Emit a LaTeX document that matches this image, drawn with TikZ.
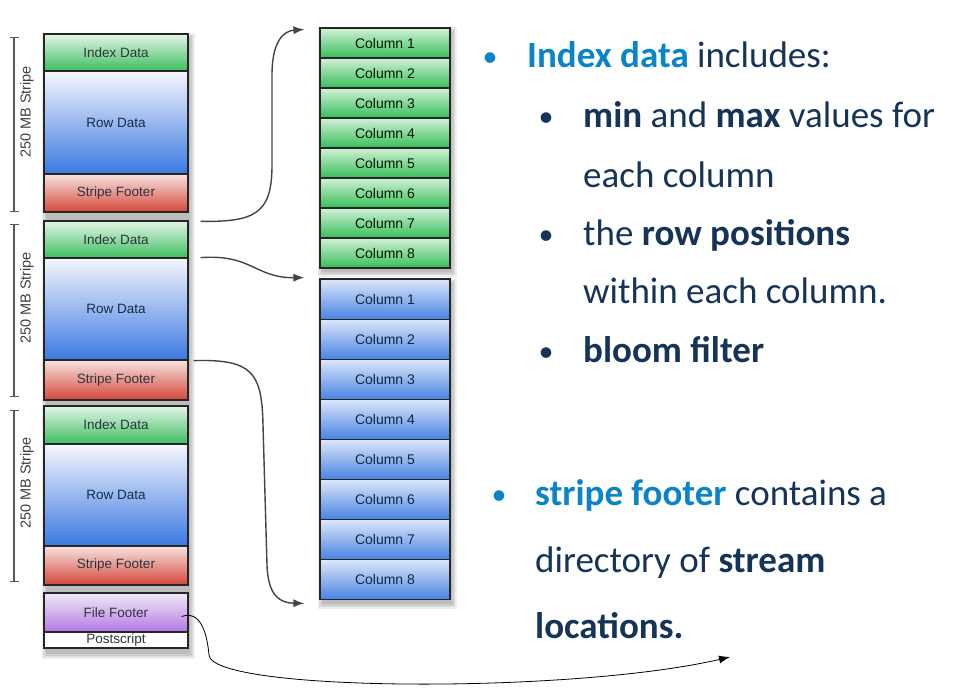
\documentclass[tikz,border=0pt]{standalone}
\usepackage{fontspec}
\setmainfont{Carlito}
\newfontfamily\boxfont{Liberation Sans}
\usetikzlibrary{arrows.meta}

\definecolor{navy}{HTML}{163458}
\definecolor{hiblue}{HTML}{0A84C8}
\definecolor{edge}{HTML}{262626}
\definecolor{idxtop}{HTML}{E4F5E8}
\definecolor{idxbot}{HTML}{3DBE5E}
\definecolor{rowtop}{HTML}{F6F7FC}
\definecolor{rowbot}{HTML}{3A78E2}
\definecolor{ftrtop}{HTML}{F7E3E0}
\definecolor{ftrbot}{HTML}{D4473A}
\definecolor{fftop}{HTML}{F1EAF7}
\definecolor{ffbot}{HTML}{B277E2}
\definecolor{gctop}{HTML}{D2F1D8}
\definecolor{gcbot}{HTML}{36BE58}
\definecolor{bctop}{HTML}{DDE7F9}
\definecolor{bcbot}{HTML}{4783E4}
\definecolor{conn}{HTML}{444444}
\definecolor{celltext}{HTML}{2E3340}

\begin{document}
\begin{tikzpicture}[x=1pt,y=-1pt,
  cell/.style={rectangle, draw=edge, line width=1.2pt, inner sep=0pt,
    font=\boxfont\fontsize{13.5}{15}\selectfont, text=celltext},
  stackcell/.style={cell, minimum width=144pt},
  colcell/.style={cell, minimum width=130pt, font=\boxfont\fontsize{14}{16}\selectfont},
  idx/.style={stackcell, top color=idxtop, bottom color=idxbot},
  rowd/.style={stackcell, top color=rowtop, bottom color=rowbot, text=navy!85!black},
  ftr/.style={stackcell, top color=ftrtop, bottom color=ftrbot},
  gcol/.style={colcell, minimum height=30pt, top color=gctop, bottom color=gcbot, text=black!75!green!40!black},
  bcol/.style={colcell, minimum height=40.1pt, top color=bctop, bottom color=bcbot, text=navy!75!black},
  stripelabel/.style={rotate=90, font=\boxfont\fontsize{14.5}{16}\selectfont, text=black!75},
  bracket/.style={draw=black!65, line width=1.3pt, {Bar[width=9pt]}-{Bar[width=9pt]}},
  link/.style={draw=conn, line width=1.4pt, -{Latex[length=11pt,width=8pt]}},
  thinlink/.style={draw=black, line width=0.8pt, -{Latex[length=11pt,width=8pt]}},
  txt/.style={anchor=base west, inner sep=0pt, text=navy, font=\fontsize{37}{44}\selectfont},
  dot/.style={anchor=base, inner sep=0pt, font=\fontsize{30}{36}\selectfont},
  softshadow/.style={fill=black, opacity=0.07}
]
\useasboundingbox (0,0) rectangle (972,698);
\fill[white] (0,0) rectangle (972,698);

% soft shadows behind the three blocks
\foreach \d in {0,1.5,3,4.5}{
  \fill[softshadow] (44-\d+2,34-\d+4) rectangle (188+\d+2,650+\d+4);
  \fill[softshadow] (320-\d+2,28-\d+4) rectangle (450+\d+2,268+\d+4);
  \fill[softshadow] (320-\d+2,279-\d+4) rectangle (450+\d+2,600+\d+4);
}

% stripe stack
\node[idx,  minimum height=37pt]  (i1) at (116,52.5) {Index Data};
\node[rowd, minimum height=103pt] (r1) at (116,122.5) {Row Data};
\node[ftr,  minimum height=38pt]  (s1) at (116,193) {Stripe Footer};

\node[idx,  minimum height=37pt]  (i2) at (116,239.5) {Index Data};
\node[rowd, minimum height=102pt] (r2) at (116,309) {Row Data};
\node[ftr,  minimum height=40pt]  (s2) at (116,380) {Stripe Footer};

\node[idx,  minimum height=38pt]  (i3) at (116,425) {Index Data};
\node[rowd, minimum height=102pt] (r3) at (116,495) {Row Data};
\node[ftr,  minimum height=39pt]  (s3) at (116,565.5) {Stripe Footer};

\node[stackcell, minimum height=39pt, top color=fftop, bottom color=ffbot] (ff) at (116,612.5) {File Footer};
\node[stackcell, minimum height=16pt, fill=white] (ps) at (116,640) {Postscript};

% stripe size brackets
\coordinate (b1t) at (14,37);  \coordinate (b1b) at (14,212);
\coordinate (b2t) at (14,224); \coordinate (b2b) at (14,397);
\coordinate (b3t) at (14,410); \coordinate (b3b) at (14,582);
\draw[bracket] (b1t) -- (b1b);
\draw[bracket] (b2t) -- (b2b);
\draw[bracket] (b3t) -- (b3b);
\node[stripelabel] (l1) at (27,112) {250 MB Stripe};
\node[stripelabel] (l2) at (27,298) {250 MB Stripe};
\node[stripelabel] (l3) at (27,483) {250 MB Stripe};

% index streams (green) and data streams (blue)
\foreach \k in {1,...,8}{
  \node[gcol] (g\k) at (385,{28+30*(\k-1)+15}) {Column \k};
}
\foreach \k in {1,...,8}{
  \node[bcol] (c\k) at (385,{279+40.1*(\k-1)+20.05}) {Column \k};
}

% connectors
\coordinate (a1s) at ([xshift=12pt,yshift=-1pt]i2.north east);
\coordinate (a1e) at ([xshift=-15pt,yshift=-2pt]g1.north west);
\coordinate (a2s) at ([xshift=12pt,yshift=1pt]i2.south east);
\coordinate (a2e) at ([xshift=-15pt,yshift=-9pt]g8.south west);
\coordinate (a3s) at ([xshift=5pt]r2.south east);
\coordinate (a3e) at ([xshift=-15pt,yshift=-3pt]c8.south west);
\coordinate (a4s) at ([xshift=-7pt,yshift=-4pt]ff.east);
\coordinate (a4e) at (730,657);

\draw[link] (a1s) .. controls (255,222) and (272,214) .. (272,165)
  -- (272,75) .. controls (272,42) and (283,31) .. (a1e);
\draw[link] (a2s) .. controls (252,254) and (255,278) .. (a2e);
\draw[link] (a3s) .. controls (252,359) and (262,372) .. (263,425)
  -- (267,565) .. controls (268,596) and (280,603) .. (a3e);
\draw[thinlink] (a4s) .. controls (200,610) and (207,632) .. (209,655)
  .. controls (212,692) and (570,694) .. (a4e);

% notes on index data
\node[dot, text=hiblue] (d1) at (490,67) {•};
\node[txt] (t1) at (527,68) {\textcolor{hiblue}{\textbf{Index data}} includes:};
\node[dot, text=navy] (d2) at (546,127) {•};
\node[txt] (t2) at (583,128) {\textbf{min} and \textbf{max} values for};
\node[txt] (t3) at (583,187) {each column};
\node[dot, text=navy] (d3) at (546,244) {•};
\node[txt] (t4) at (583,245) {the \textbf{row positions}};
\node[txt] (t5) at (583,303) {within each column.};
\node[dot, text=navy] (d4) at (546,361) {•};
\node[txt] (t6) at (583,362) {\textbf{bloom filter}};

% notes on stripe footer
\node[dot, text=hiblue] (d5) at (499,504) {•};
\node[txt] (t7) at (535,505) {\textcolor{hiblue}{\textbf{stripe footer}} contains a};
\node[txt] (t8) at (535,572) {directory of \textbf{stream}};
\node[txt] (t9) at (535,638) {\textbf{locations.}};
\end{tikzpicture}
\end{document}
